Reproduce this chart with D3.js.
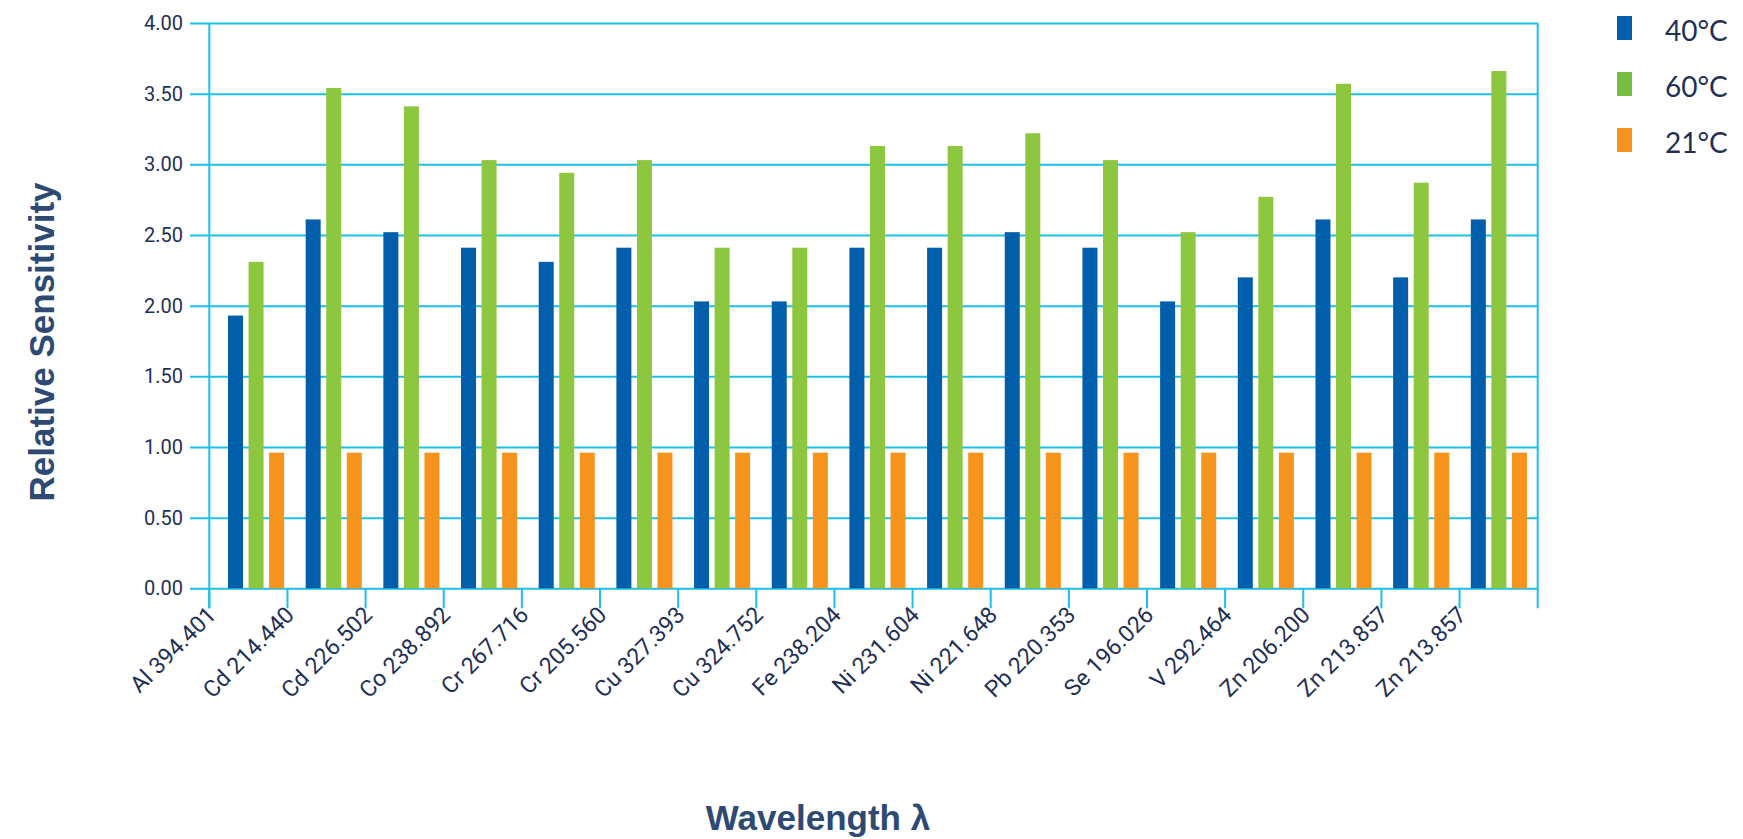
<!DOCTYPE html>
<html>
<head>
<meta charset="utf-8">
<script src="https://cdn.jsdelivr.net/npm/d3@7/dist/d3.min.js"></script>
<style>
  html, body { margin: 0; padding: 0; background: #ffffff; }
  svg { display: block; }
</style>
</head>
<body>
<svg id="chart" width="1743" height="839"></svg>
<script>
// ---- data ----
const categories = [
  "Al 394.401", "Cd 214.440", "Cd 226.502", "Co 238.892", "Cr 267.716",
  "Cr 205.560", "Cu 327.393", "Cu 324.752", "Fe 238.204", "Ni 231.604",
  "Ni 221.648", "Pb 220.353", "Se 196.026", "V 292.464", "Zn 206.200",
  "Zn 213.857", "Zn 213.857 "
];
const seriesNames = ["40°C", "60°C", "21°C"];
const values40 = [1.93, 2.61, 2.52, 2.41, 2.31, 2.41, 2.03, 2.03, 2.41, 2.41, 2.52, 2.41, 2.03, 2.20, 2.61, 2.20, 2.61];
const values60 = [2.31, 3.54, 3.41, 3.03, 2.94, 3.03, 2.41, 2.41, 3.13, 3.13, 3.22, 3.03, 2.52, 2.77, 3.57, 2.87, 3.66];
const values21 = [0.96, 0.96, 0.96, 0.96, 0.96, 0.96, 0.96, 0.96, 0.96, 0.96, 0.96, 0.96, 0.96, 0.96, 0.96, 0.96, 0.96];
const yTicks = [0, 0.5, 1, 1.5, 2, 2.5, 3, 3.5, 4];
const barColors = ["#005eaa", "#8dc63f", "#f7941d"];
const legendColors = ["#005eaa", "#78be43", "#f7941d"];
const yTitle = "Relative Sensitivity";
const xTitle = "Wavelength λ";

const seriesValues = [values40, values60, values21];

// ---- layout ----
const svg = d3.select("#chart");
const plotLeft = 209.3, plotRight = 1537.7, plotTop = 23, plotBottom = 588.3;
const gridLeft = 190;
const gridColor = "#1dc0e6";
const textColor = "#1f3056";
const titleColor = "#2e4a72";

const y = d3.scaleLinear().domain([0, 4]).range([plotBottom, plotTop]);
const x = d3.scaleBand().domain(categories).range([plotLeft, plotRight]);
const xBars = d3.scaleBand().domain(categories).range([plotLeft + 7.9, plotRight]);
const sub = d3.scaleBand().domain(seriesNames).range([10.8, 66.9]).paddingInner(0.27);

// y axis with gridlines
const yAxis = d3.axisLeft(y)
  .tickValues(yTicks)
  .tickFormat(d3.format(".2f"))
  .tickSize(-(plotRight - gridLeft))
  .tickPadding(7);

const gy = svg.append("g")
  .attr("transform", `translate(${gridLeft},0)`)
  .call(yAxis);
gy.select(".domain").remove();
gy.selectAll(".tick line").attr("stroke", gridColor).attr("stroke-width", 2);
gy.selectAll(".tick text")
  .attr("fill", textColor)
  .attr("font-family", "Roboto, 'Noto Sans', sans-serif")
  .attr("font-size", 20);

// vertical frame lines
svg.append("line")
  .attr("x1", plotLeft).attr("x2", plotLeft)
  .attr("y1", plotTop).attr("y2", plotBottom + 20)
  .attr("stroke", gridColor).attr("stroke-width", 2);
svg.append("line")
  .attr("x1", plotRight).attr("x2", plotRight)
  .attr("y1", plotTop).attr("y2", plotBottom + 20)
  .attr("stroke", gridColor).attr("stroke-width", 2);

// x ticks at band boundaries
svg.append("g").selectAll("line")
  .data(categories)
  .join("line")
  .attr("x1", d => x(d)).attr("x2", d => x(d))
  .attr("y1", plotBottom).attr("y2", plotBottom + 20)
  .attr("stroke", gridColor).attr("stroke-width", 2);

// x labels
svg.append("g").selectAll("text")
  .data(categories)
  .join("text")
  .attr("transform", d => `translate(${x(d) + 8},${plotBottom + 28}) rotate(-45)`)
  .attr("text-anchor", "end")
  .attr("fill", textColor)
  .attr("font-family", "Roboto, 'Noto Sans', sans-serif")
  .attr("font-size", 23)
  .text(d => d.trim());

// bars
const groups = svg.append("g").selectAll("g")
  .data(categories)
  .join("g")
  .attr("transform", d => `translate(${xBars(d)},0)`);

groups.selectAll("rect")
  .data((d, i) => seriesNames.map((s, k) => ({ s, v: seriesValues[k][i], k })))
  .join("rect")
  .attr("x", d => sub(d.s))
  .attr("width", sub.bandwidth())
  .attr("y", d => y(d.v))
  .attr("height", d => y(0) - y(d.v))
  .attr("fill", d => barColors[d.k]);

// legend
const legend = svg.append("g");
seriesNames.forEach((s, k) => {
  legend.append("rect")
    .attr("x", 1617).attr("y", 16 + k * 56)
    .attr("width", 15).attr("height", 24)
    .attr("fill", legendColors[k]);
  legend.append("text")
    .attr("x", 1665).attr("y", 41 + k * 56)
    .attr("fill", textColor)
    .attr("font-family", "Lato, 'Open Sans', sans-serif")
    .attr("font-size", 28)
    .text(s);
});

// axis titles
svg.append("text")
  .attr("transform", `translate(54,342) rotate(-90)`)
  .attr("text-anchor", "middle")
  .attr("fill", titleColor)
  .attr("font-family", "'Liberation Sans', Arial, sans-serif")
  .attr("font-weight", "bold")
  .attr("font-size", 35)
  .text(yTitle);

svg.append("text")
  .attr("x", 818).attr("y", 830)
  .attr("text-anchor", "middle")
  .attr("fill", titleColor)
  .attr("font-family", "'Liberation Sans', Arial, sans-serif")
  .attr("font-weight", "bold")
  .attr("font-size", 35)
  .text(xTitle);
</script>
</body>
</html>
